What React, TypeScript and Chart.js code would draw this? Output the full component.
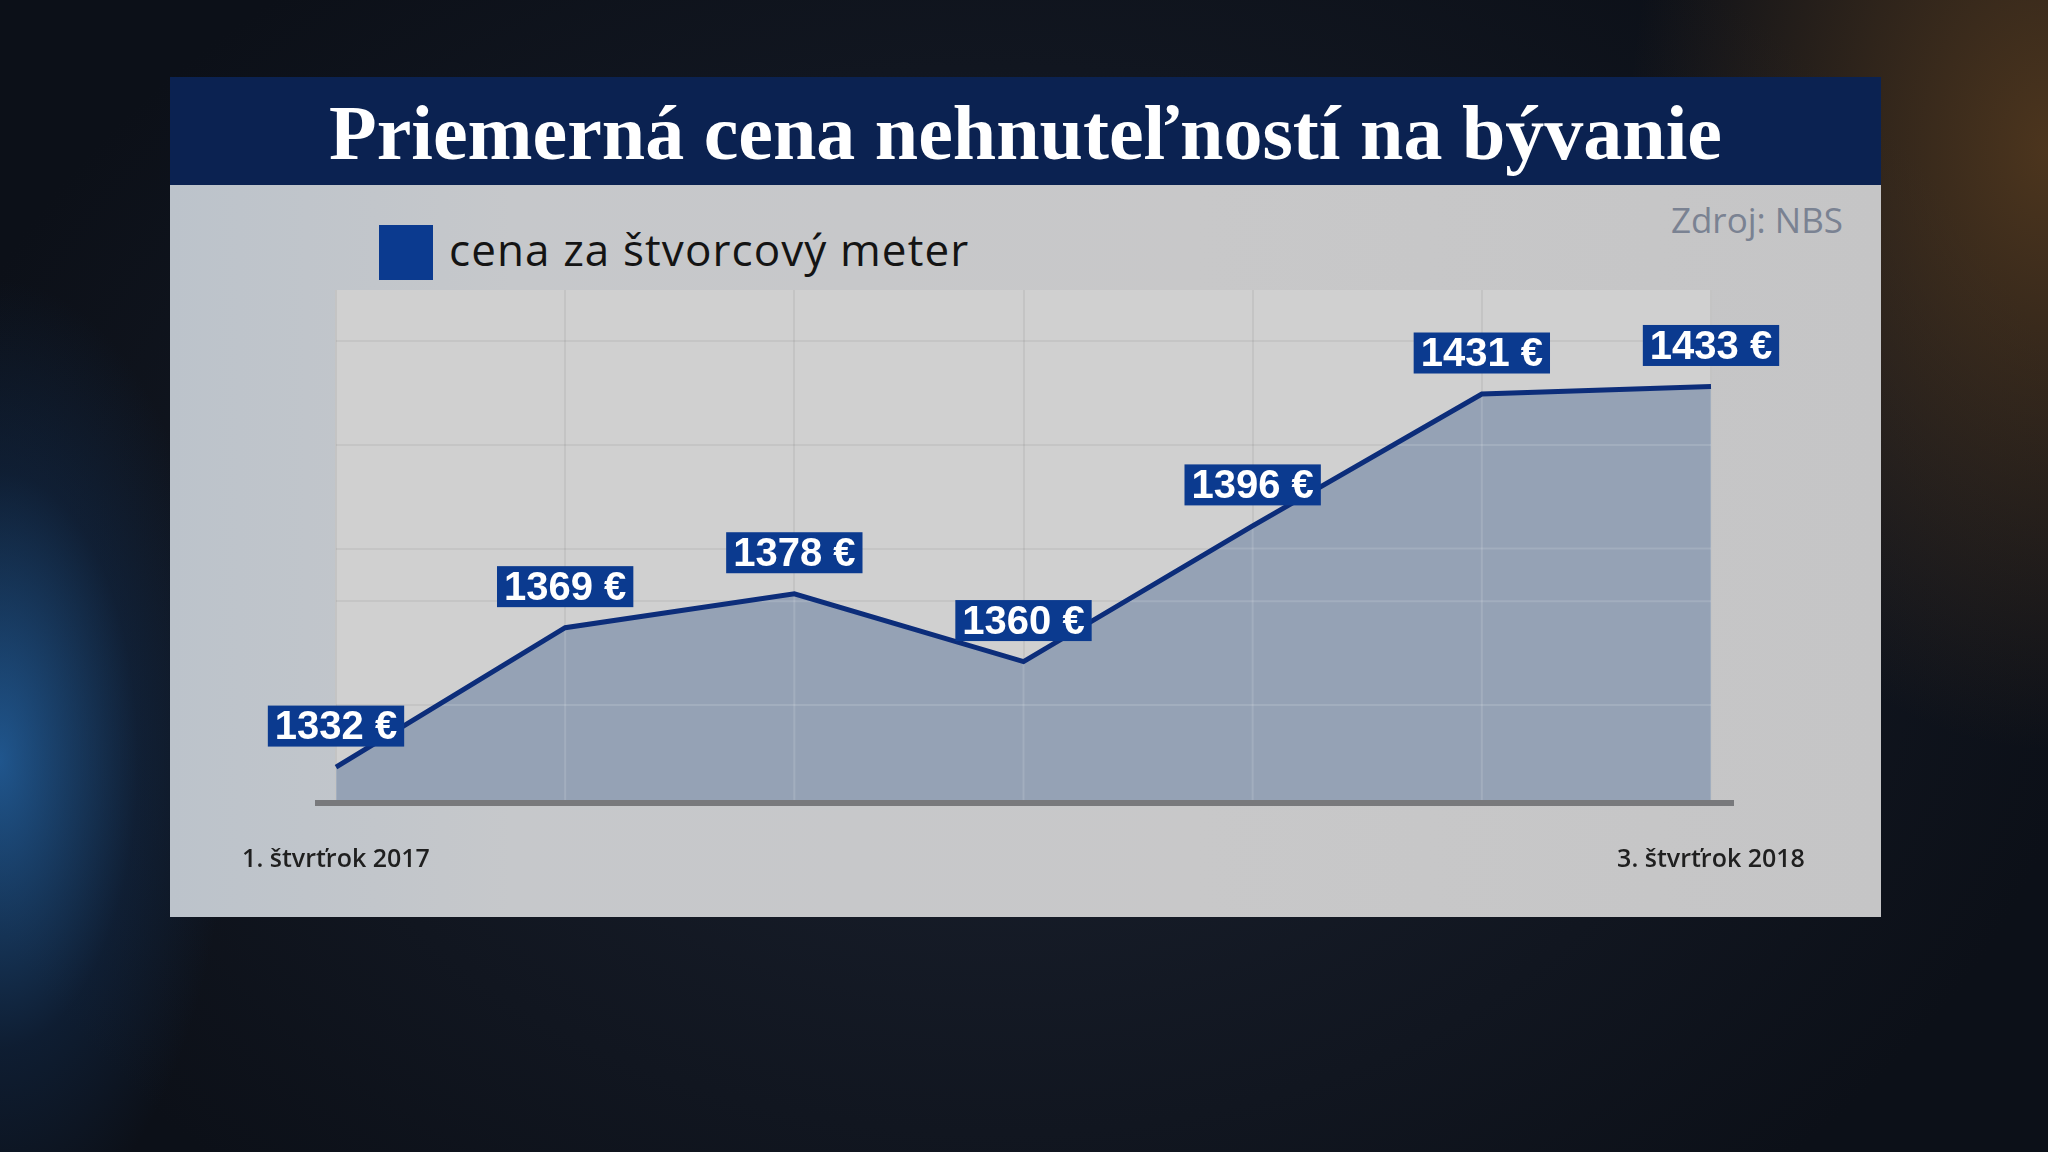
import React, { useEffect, useRef } from "react";
import { Chart, registerables } from "chart.js";

Chart.register(...registerables);

const TITLE = "Priemerná cena nehnuteľností na bývanie";
const SOURCE = "Zdroj: NBS";
const SERIES_LABEL = "cena za štvorcový meter";
const CATEGORIES = [
  "1. štvrťrok 2017",
  "2. štvrťrok 2017",
  "3. štvrťrok 2017",
  "4. štvrťrok 2017",
  "1. štvrťrok 2018",
  "2. štvrťrok 2018",
  "3. štvrťrok 2018",
];
const PRICES = [1332, 1369, 1378, 1360, 1396, 1431, 1433];
const SHOWN_TICK_INDEXES = [0, 6];
const Y_MIN = 1323;
const Y_MAX = 1458.6;
const GRID_VALUES = [1348.5, 1376, 1390, 1417.5, 1445];
const CURRENCY = "€";

const W = 2048;
const H = 1152;

const plotBg = {
  id: "plotBg",
  beforeDraw(chart: any) {
    const { ctx, chartArea: a } = chart;
    ctx.save();
    ctx.fillStyle = "#d0d0d0";
    ctx.fillRect(a.left - 1, a.top, a.right - a.left + 2, a.bottom - a.top);
    ctx.restore();
  },
};

const gridOverFill = {
  id: "gridOverFill",
  beforeDatasetDraw(chart: any, args: any) {
    const meta = chart.getDatasetMeta(args.index);
    const pts = meta.data;
    const { ctx, chartArea: a, scales } = chart;
    ctx.save();
    ctx.beginPath();
    ctx.moveTo(pts[0].x, a.bottom);
    pts.forEach((p: any) => ctx.lineTo(p.x, p.y));
    ctx.lineTo(pts[pts.length - 1].x, a.bottom);
    ctx.closePath();
    ctx.clip();
    ctx.strokeStyle = "rgba(255,255,255,0.13)";
    ctx.lineWidth = 2;
    GRID_VALUES.forEach((v) => {
      const y = scales.y.getPixelForValue(v);
      ctx.beginPath();
      ctx.moveTo(a.left, y);
      ctx.lineTo(a.right, y);
      ctx.stroke();
    });
    CATEGORIES.forEach((_, i) => {
      const x = scales.x.getPixelForValue(i);
      ctx.beginPath();
      ctx.moveTo(x, a.top);
      ctx.lineTo(x, a.bottom);
      ctx.stroke();
    });
    ctx.restore();
  },
};

const baseline = {
  id: "baseline",
  afterDatasetsDraw(chart: any) {
    const { ctx, chartArea: a } = chart;
    ctx.save();
    ctx.fillStyle = "#78797c";
    ctx.fillRect(a.left - 21, a.bottom - 1, a.right - a.left + 44, 6);
    ctx.restore();
  },
};

const valueLabels = {
  id: "valueLabels",
  afterDatasetsDraw(chart: any) {
    const { ctx } = chart;
    const meta = chart.getDatasetMeta(0);
    ctx.save();
    ctx.font = 'bold 40px "Liberation Sans", Arial, sans-serif';
    ctx.textAlign = "center";
    ctx.textBaseline = "middle";
    meta.data.forEach((p: any, i: number) => {
      const text = `${PRICES[i]} ${CURRENCY}`;
      const tw = ctx.measureText(text).width;
      const bw = tw + 14;
      const bh = 41;
      const cy = p.y - 41;
      ctx.fillStyle = "#0b3a8f";
      ctx.fillRect(p.x - bw / 2, cy - bh / 2, bw, bh);
      ctx.fillStyle = "#ffffff";
      ctx.fillText(text, p.x, cy + 2);
    });
    ctx.restore();
  },
};

function PriceChart() {
  const ref = useRef<HTMLCanvasElement | null>(null);
  useEffect(() => {
    if (!ref.current) return;
    const chart = new Chart(ref.current, {
      type: "line",
      data: {
        labels: CATEGORIES,
        datasets: [
          {
            label: SERIES_LABEL,
            data: PRICES,
            borderColor: "#0c2d7a",
            borderWidth: 5,
            borderJoinStyle: "miter",
            backgroundColor: "#95a2b5",
            fill: "start",
            pointRadius: 0,
            tension: 0,
          },
        ],
      },
      options: {
        responsive: false,
        animation: false,
        devicePixelRatio: 1,
        layout: { padding: { left: 336, right: 337, top: 290, bottom: 0 } },
        plugins: {
          legend: { display: false },
          tooltip: { enabled: false },
          title: { display: false },
        },
        scales: {
          x: {
            offset: false,
            grid: { color: "rgba(0,0,0,0.055)", lineWidth: 2, drawTicks: false },
            border: { display: false },
            ticks: {
              autoSkip: false,
              maxRotation: 0,
              padding: 44,
              color: "#1f1f1f",
              font: { family: '"Open Sans", sans-serif', size: 25, weight: 600 },
              callback: (_v: any, i: number) =>
                SHOWN_TICK_INDEXES.includes(i) ? CATEGORIES[i] : "",
            },
            afterFit: (s: any) => {
              s.height = H - 801;
            },
          },
          y: {
            min: Y_MIN,
            max: Y_MAX,
            grid: { color: "rgba(0,0,0,0.05)", lineWidth: 2, drawTicks: false },
            border: { display: false },
            ticks: { display: false },
            afterBuildTicks: (s: any) => {
              s.ticks = GRID_VALUES.map((v) => ({ value: v }));
            },
            afterFit: (s: any) => {
              s.width = 0;
            },
          },
        },
      },
      plugins: [plotBg, gridOverFill, baseline, valueLabels],
    });
    return () => chart.destroy();
  }, []);
  return (
    <canvas
      ref={ref}
      width={W}
      height={H}
      style={{ position: "absolute", left: 0, top: 0, width: W, height: H }}
    />
  );
}

export default function App() {
  return (
    <div
      style={{
        position: "fixed",
        left: 0,
        top: 0,
        width: W,
        height: H,
        overflow: "hidden",
        background:
          "radial-gradient(ellipse 230px 480px at 0px 760px, rgba(40,115,190,0.7), rgba(20,60,110,0.3) 60%, transparent 100%), radial-gradient(ellipse 420px 600px at 2048px 150px, rgba(140,90,35,0.5), transparent 100%), radial-gradient(ellipse 1100px 800px at 1000px 600px, #1b2230, #0c1018 100%)",
      }}
    >
      <div
        style={{
          position: "absolute",
          left: 170,
          top: 185,
          width: 1711,
          height: 732,
          background: "linear-gradient(90deg, #bcc3cb 0%, #c6c8cb 20%, #c8c8c9 60%, #c5c5c6 100%)",
        }}
      />
      <div
        style={{
          position: "absolute",
          left: 170,
          top: 77,
          width: 1711,
          height: 108,
          background: "#0b2251",
          display: "flex",
          alignItems: "center",
          justifyContent: "center",
          color: "#ffffff",
          font: 'bold 78px "Liberation Serif", serif',
          whiteSpace: "nowrap",
        }}
      >
        <span style={{ position: "relative", top: 2 }}>{TITLE}</span>
      </div>
      <div
        style={{
          position: "absolute",
          left: 379,
          top: 225,
          width: 54,
          height: 55,
          background: "#0b3a8f",
        }}
      />
      <div
        style={{
          position: "absolute",
          left: 449,
          top: 227,
          font: '44px "Open Sans", sans-serif',
          letterSpacing: "1.1px",
          lineHeight: "44px",
          color: "#141414",
          whiteSpace: "nowrap",
        }}
      >
        {SERIES_LABEL}
      </div>
      <div
        style={{
          position: "absolute",
          right: W - 1843,
          top: 202,
          font: '500 35px "Open Sans", sans-serif',
          lineHeight: "35px",
          color: "#7a8292",
          whiteSpace: "nowrap",
        }}
      >
        {SOURCE}
      </div>
      <PriceChart />
    </div>
  );
}
